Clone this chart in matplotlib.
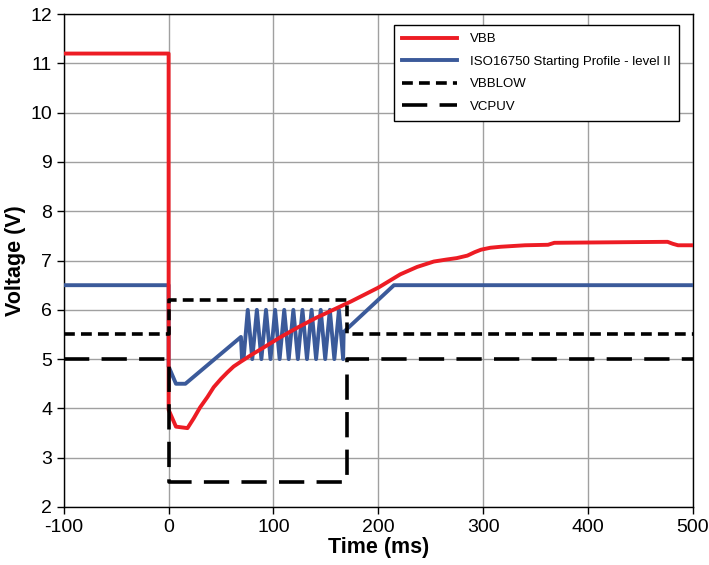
import numpy as np
import matplotlib
matplotlib.use('Agg')
import matplotlib.pyplot as plt

plt.rcParams['font.family'] = ['Liberation Sans', 'DejaVu Sans']
plt.rcParams['axes.unicode_minus'] = False

# VBB supply voltage
vbb_t = [-100, 0, 0, 7, 18, 24, 30, 37, 43, 50, 56, 62, 69, 80, 91, 107, 123,
         140, 157, 174, 200, 221, 237, 253, 265, 275, 285, 292, 298, 307, 317,
         340, 362, 368, 476, 481, 486, 500]
vbb_v = [11.2, 11.2, 3.97, 3.63, 3.6, 3.8, 4.02, 4.23, 4.43, 4.6, 4.73, 4.85,
         4.95, 5.1, 5.24, 5.45, 5.64, 5.83, 6.0, 6.17, 6.45, 6.72, 6.87, 6.98,
         7.02, 7.05, 7.1, 7.17, 7.22, 7.26, 7.28, 7.31, 7.32, 7.36, 7.38, 7.34,
         7.31, 7.31]

# ISO16750 starting profile - level II
iso_t = [-100, 0, 0, 7, 16, 69, 70,
         71.5, 75.5, 79.8, 84.2, 88.5, 92.9, 97.2, 101.6, 105.9, 110.3, 114.6,
         119.0, 123.3, 127.7, 132.0, 136.4, 140.7, 145.1, 149.4, 153.8, 158.1,
         162.5, 166.5, 167, 215, 500]
iso_v = [6.5, 6.5, 4.85, 4.5, 4.5, 5.45, 5.0,
         5.0, 6.0, 5.0, 6.0, 5.0, 6.0, 5.0, 6.0, 5.0, 6.0, 5.0,
         6.0, 5.0, 6.0, 5.0, 6.0, 5.0, 6.0, 5.0, 6.0, 5.0,
         6.0, 5.0, 5.55, 6.5, 6.5]

# VBBLOW threshold
low_t = [-100, 0, 0, 170, 170, 500]
low_v = [5.5, 5.5, 6.2, 6.2, 5.5, 5.5]

# VCPUV threshold
cpuv_t = [-100, 0, 0, 170, 170, 500]
cpuv_v = [5.0, 5.0, 2.5, 2.5, 5.0, 5.0]

xticks = [-100, 0, 100, 200, 300, 400, 500]
yticks = [2, 3, 4, 5, 6, 7, 8, 9, 10, 11, 12]

fig = plt.figure(figsize=(7.09, 5.65), dpi=100)
ax = fig.add_axes([0.090, 0.1027, 0.887, 0.8723])

ax.plot(vbb_t, vbb_v, color='#ed1c24', lw=2.8, label='VBB', zorder=4)
ax.plot(iso_t, iso_v, color='#3b5a9a', lw=2.8, label='ISO16750 Starting Profile - level II', zorder=3)
ax.plot(low_t, low_v, color='k', lw=2.6, dashes=(3.0, 1.7), label='VBBLOW', zorder=5)
ax.plot(cpuv_t, cpuv_v, color='k', lw=2.6, dashes=(7.0, 3.4), label='VCPUV', zorder=5)

ax.set_xlim(-100, 500)
ax.set_ylim(2, 12)
ax.set_xticks(xticks)
ax.set_yticks(yticks)
ax.grid(True, color='#a0a0a0', lw=1.0)
ax.set_axisbelow(True)
ax.tick_params(direction='out', length=5, width=1, labelsize=14)
for s in ax.spines.values():
    s.set_linewidth(1.0)
    s.set_color('k')

ax.set_xlabel('Time (ms)', fontsize=15.5, fontweight='bold', labelpad=1)
ax.set_ylabel('Voltage (V)', fontsize=15.5, fontweight='bold', labelpad=3)

leg = ax.legend(loc='upper right', bbox_to_anchor=(0.978, 0.9775), fontsize=9.5,
                fancybox=False, framealpha=1, edgecolor='k', handlelength=4.2,
                handletextpad=1.0, borderpad=0.6, labelspacing=0.78, borderaxespad=0)
leg.get_frame().set_linewidth(1.0)

fig.savefig('out.png', dpi=100)
